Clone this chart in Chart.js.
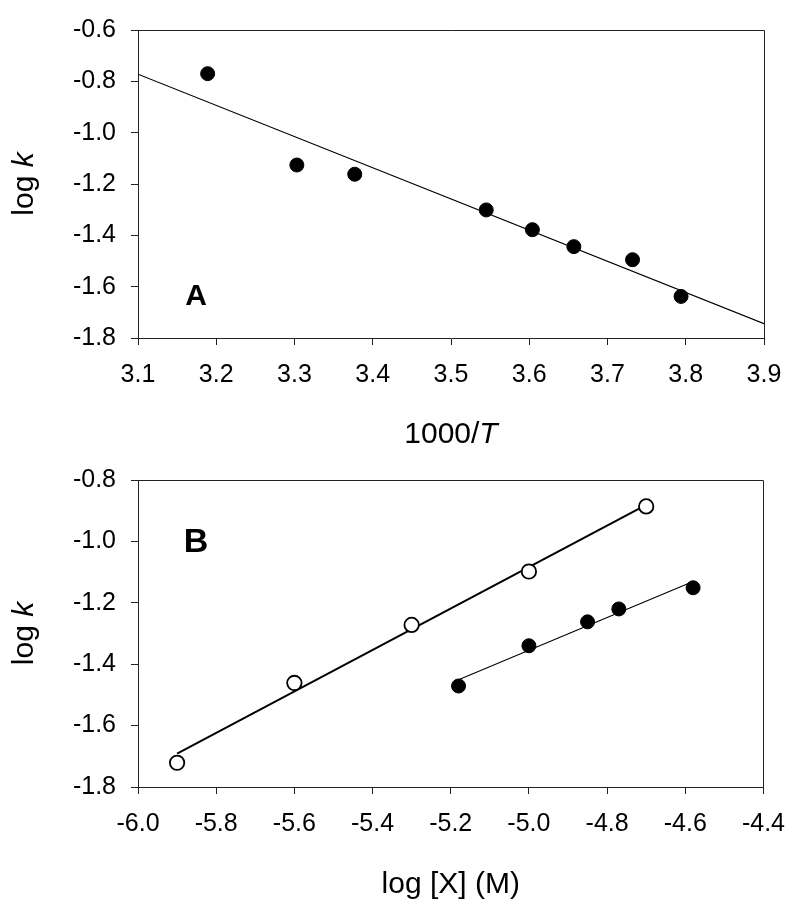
<!DOCTYPE html>
<html>
<head>
<meta charset="utf-8">
<script src="https://cdn.jsdelivr.net/npm/chart.js@4.4.1/dist/chart.umd.min.js"></script>
<style>
  html, body { margin: 0; padding: 0; background: #fff; }
  canvas { display: block; }
</style>
</head>
<body>
<canvas id="chartA" width="800" height="450"></canvas>
<canvas id="chartB" width="800" height="463"></canvas>
<script>
// panel A: log k vs 1000/T
const tempX = [3.189, 3.303, 3.377, 3.545, 3.604, 3.657, 3.732, 3.794];
const tempLogK = [-0.770, -1.126, -1.162, -1.301, -1.378, -1.444, -1.495, -1.638];
const tempFitX = [3.1, 3.9];
const tempFitY = [-0.772, -1.744];
const ticksXA = [3.1, 3.2, 3.3, 3.4, 3.5, 3.6, 3.7, 3.8, 3.9];
const ticksYA = [-1.8, -1.6, -1.4, -1.2, -1.0, -0.8, -0.6];

// panel B: log k vs log [X]
const openX = [-5.90, -5.60, -5.30, -5.00, -4.70];
const openLogK = [-1.721, -1.461, -1.272, -1.098, -0.886];
const openFitX = [-5.9, -4.7];
const openFitY = [-1.691, -0.881];
const filledX = [-5.18, -5.00, -4.85, -4.77, -4.58];
const filledLogK = [-1.471, -1.340, -1.262, -1.220, -1.151];
const filledFitX = [-5.18, -4.58];
const filledFitY = [-1.451, -1.131];
const ticksXB = [-6.0, -5.8, -5.6, -5.4, -5.2, -5.0, -4.8, -4.6, -4.4];
const ticksYB = [-1.8, -1.6, -1.4, -1.2, -1.0, -0.8];

const FONT = "'Liberation Sans', Arial, sans-serif";

function pts(xs, ys) {
  return xs.map((x, i) => ({ x: x, y: ys[i] }));
}

function drawParts(ctx, parts, size) {
  // measure, then draw centered at current origin on the baseline
  let widths = parts.map(p => {
    ctx.font = (p.italic ? "italic " : "") + size + "px " + FONT;
    return ctx.measureText(p.text).width;
  });
  let total = widths.reduce((a, b) => a + b, 0);
  let x = -total / 2;
  parts.forEach((p, i) => {
    ctx.font = (p.italic ? "italic " : "") + size + "px " + FONT;
    ctx.fillText(p.text, x, 0);
    x += widths[i];
  });
}

function decor(cfg) {
  return {
    id: "decor",
    afterDraw(chart) {
      const ctx = chart.ctx;
      const a = chart.chartArea;
      ctx.save();
      // top and right frame
      ctx.strokeStyle = "#222";
      ctx.lineWidth = 1;
      ctx.beginPath();
      ctx.moveTo(Math.round(a.left) + 0.5, Math.round(a.top) + 0.5);
      ctx.lineTo(Math.round(a.right) + 0.5, Math.round(a.top) + 0.5);
      ctx.lineTo(Math.round(a.right) + 0.5, Math.round(a.bottom) + 0.5);
      ctx.stroke();

      ctx.fillStyle = "#000";
      ctx.textBaseline = "alphabetic";
      ctx.textAlign = "left";

      // x title
      ctx.save();
      ctx.translate((a.left + a.right) / 2, a.bottom + cfg.xTitleDy);
      drawParts(ctx, cfg.xTitle, 30);
      ctx.restore();

      // y title
      ctx.save();
      ctx.translate(33, (a.top + a.bottom) / 2);
      ctx.rotate(-Math.PI / 2);
      drawParts(ctx, [{ text: "log ", italic: false }, { text: "k", italic: true }], 30);
      ctx.restore();

      // panel letter
      ctx.font = "bold " + cfg.letterSize + "px " + FONT;
      ctx.textAlign = "center";
      ctx.fillText(cfg.letter, a.left + 58, a.top + cfg.letterDy);
      ctx.restore();
    }
  };
}

function axis(min, max, ticks, fit) {
  return {
    type: "linear",
    min: min,
    max: max,
    afterBuildTicks: s => { s.ticks = ticks.map(v => ({ value: v })); },
    afterFit: fit,
    grid: { drawOnChartArea: false, drawTicks: true, tickLength: 7, color: "#222", lineWidth: 1 },
    border: { display: true, color: "#222", width: 1 },
    ticks: {
      color: "#000",
      font: { family: FONT, size: 25 },
      padding: 15,
      maxRotation: 0,
      autoSkip: false,
      callback: v => v.toFixed(1)
    }
  };
}

const baseOpts = {
  responsive: false,
  devicePixelRatio: 1,
  animation: false,
  plugins: { legend: { display: false }, tooltip: { enabled: false } }
};

// ---- panel A
new Chart(document.getElementById("chartA"), {
  type: "scatter",
  data: {
    datasets: [
      {
        data: pts(tempX, tempLogK),
        pointRadius: 7,
        pointBackgroundColor: "#000",
        pointBorderColor: "#000",
        pointBorderWidth: 1,
        showLine: false
      },
      {
        data: pts(tempFitX, tempFitY),
        showLine: true,
        pointRadius: 0,
        borderColor: "#000",
        borderWidth: 1.1
      }
    ]
  },
  options: Object.assign({}, baseOpts, {
    layout: { padding: { left: 0, top: 25, right: 36, bottom: 0 } },
    scales: {
      x: axis(3.1, 3.9, ticksXA, s => { s.height = 112; }),
      y: axis(-1.8, -0.6, ticksYA, s => { s.width = 138; })
    }
  }),
  plugins: [decor({
    xTitle: [{ text: "1000/", italic: false }, { text: "T", italic: true }],
    xTitleDy: 105,
    letter: "A",
    letterSize: 30,
    letterDy: 275
  })]
});

// ---- panel B
new Chart(document.getElementById("chartB"), {
  type: "scatter",
  data: {
    datasets: [
      {
        data: pts(openX, openLogK),
        pointRadius: 7.2,
        pointBackgroundColor: "#fff",
        pointBorderColor: "#000",
        pointBorderWidth: 1.8,
        showLine: false
      },
      {
        data: pts(filledX, filledLogK),
        pointRadius: 7,
        pointBackgroundColor: "#000",
        pointBorderColor: "#000",
        pointBorderWidth: 1,
        showLine: false
      },
      {
        data: pts(openFitX, openFitY),
        showLine: true,
        pointRadius: 0,
        borderColor: "#000",
        borderWidth: 2
      },
      {
        data: pts(filledFitX, filledFitY),
        showLine: true,
        pointRadius: 0,
        borderColor: "#000",
        borderWidth: 1.1
      }
    ]
  },
  options: Object.assign({}, baseOpts, {
    layout: { padding: { left: 0, top: 24, right: 36, bottom: 0 } },
    scales: {
      x: axis(-6.0, -4.4, ticksXB, s => { s.height = 126; }),
      y: axis(-1.8, -0.8, ticksYB, s => { s.width = 138; })
    }
  }),
  plugins: [decor({
    xTitle: [{ text: "log [X] (M)", italic: false }],
    xTitleDy: 106,
    letter: "B",
    letterSize: 34,
    letterDy: 72
  })]
});
</script>
</body>
</html>
